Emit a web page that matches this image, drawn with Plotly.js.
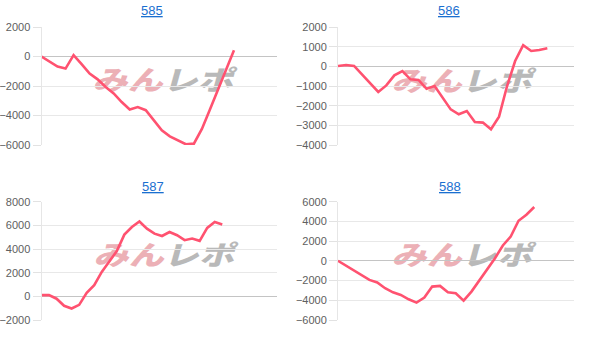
<!DOCTYPE html>
<html>
<head>
<meta charset="utf-8">
<script src="https://cdn.plot.ly/plotly-3.0.1.min.js"></script>
<style>
html,body{margin:0;padding:0;background:#fff;}
#wrap{position:relative;width:597px;height:345px;}
#chart{position:absolute;left:0;top:0;width:597px;height:345px;z-index:2;}
.wm{position:absolute;z-index:1;font-family:"Noto Sans CJK JP",sans-serif;font-weight:900;font-size:27px;line-height:27px;white-space:nowrap;transform:translate(-50%,-50%) scaleX(1.3) skewX(-12deg);}
.wm .a{color:rgb(236,176,182);}
.wm .b{color:rgb(185,185,185);}
</style>
</head>
<body>
<div id="wrap">
<div class="wm" style="left:166px;top:78px;"><span class="a">みん</span><span class="b">レポ</span></div>
<div class="wm" style="left:465px;top:79px;"><span class="a">みん</span><span class="b">レポ</span></div>
<div class="wm" style="left:167px;top:253px;"><span class="a">みん</span><span class="b">レポ</span></div>
<div class="wm" style="left:465px;top:253px;"><span class="a">みん</span><span class="b">レポ</span></div>
<div id="chart"></div>
</div>
<script>
const titles = ["585", "586", "587", "588"];
const s585 = [0, -360, -680, -820, 90, -520, -1160, -1550, -2070, -2500, -3090, -3590, -3430, -3640, -4320, -5000, -5410, -5680, -5950, -5910, -4910, -3590, -2230, -860, 430];
const s586 = [20, 70, 20, -410, -860, -1300, -970, -460, -240, -660, -690, -1140, -1000, -1590, -2190, -2440, -2270, -2830, -2860, -3200, -2560, -1000, 270, 1080, 780, 830, 920];
const s587 = [100, 100, -200, -800, -1030, -720, 300, 940, 2060, 2940, 3830, 5220, 5860, 6330, 5720, 5300, 5100, 5440, 5170, 4750, 4890, 4690, 5780, 6280, 6080];
const s588 = [0, -470, -1020, -1420, -1930, -2200, -2780, -3190, -3460, -3900, -4240, -3730, -2610, -2540, -3190, -3290, -4030, -3120, -2030, -920, 270, 1560, 2470, 4070, 4680, 5460];
const series = [s585, s586, s587, s588];
const yRanges = [[-6000, 2000], [-4000, 2000], [-2000, 8000], [-6000, 6000]];
const yDticks = [2000, 1000, 2000, 2000];
const xRanges = [[0, 29.3], [0, 29.25], [0, 31.2], [0, 30]];

const W = 597, H = 345;
const xDom = [[41.5 / W, 276.5 / W], [338 / W, 573.5 / W]];
const yDom = [[(H - 145) / H, (H - 27) / H], [(H - 320) / H, (H - 201.7) / H]];
const titlePos = [[152, 11], [449, 11], [153, 186], [450, 186]];

const traces = [];
const layout = {
  width: W, height: H,
  margin: {l: 0, r: 0, t: 0, b: 0},
  paper_bgcolor: 'rgba(0,0,0,0)',
  plot_bgcolor: 'rgba(0,0,0,0)',
  showlegend: false,
  font: {family: 'Liberation Sans, Arial, sans-serif', size: 11, color: '#666'},
  annotations: []
};

series.forEach((vals, i) => {
  const n = i + 1;
  const xa = 'xaxis' + (n === 1 ? '' : n), ya = 'yaxis' + (n === 1 ? '' : n);
  traces.push({
    type: 'scatter', mode: 'lines',
    x: vals.map((_, k) => k), y: vals,
    xaxis: 'x' + (n === 1 ? '' : n), yaxis: 'y' + (n === 1 ? '' : n),
    line: {color: 'rgb(255,82,112)', width: 2.6},
    hoverinfo: 'skip'
  });
  const col = i % 2, row = Math.floor(i / 2);
  layout[xa] = {
    domain: xDom[col], range: xRanges[i], anchor: 'y' + (n === 1 ? '' : n),
    showgrid: false, zeroline: false, showticklabels: false, ticks: '',
    showline: false, fixedrange: true
  };
  layout[ya] = {
    domain: yDom[row], range: yRanges[i], anchor: 'x' + (n === 1 ? '' : n),
    dtick: yDticks[i], tick0: 0,
    showgrid: true, gridcolor: '#e8e8e8', gridwidth: 1,
    zeroline: true, zerolinecolor: '#c4c4c4', zerolinewidth: 1,
    showline: true, linecolor: '#e6e6e6', linewidth: 1,
    ticks: 'outside', ticklen: 8, tickcolor: '#e2e2e2', tickwidth: 1,
    tickfont: {size: 11, color: '#606060'},
    fixedrange: true
  };
  layout.annotations.push({
    xref: 'paper', yref: 'paper',
    x: titlePos[i][0] / W, y: 1 - titlePos[i][1] / H,
    xanchor: 'center', yanchor: 'middle',
    text: '<u>' + titles[i] + '</u>',
    showarrow: false,
    font: {family: 'Liberation Sans, Arial, sans-serif', size: 13, color: '#1a6fd0'}
  });
});

Plotly.newPlot('chart', traces, layout, {staticPlot: true, displayModeBar: false});
</script>
</body>
</html>
